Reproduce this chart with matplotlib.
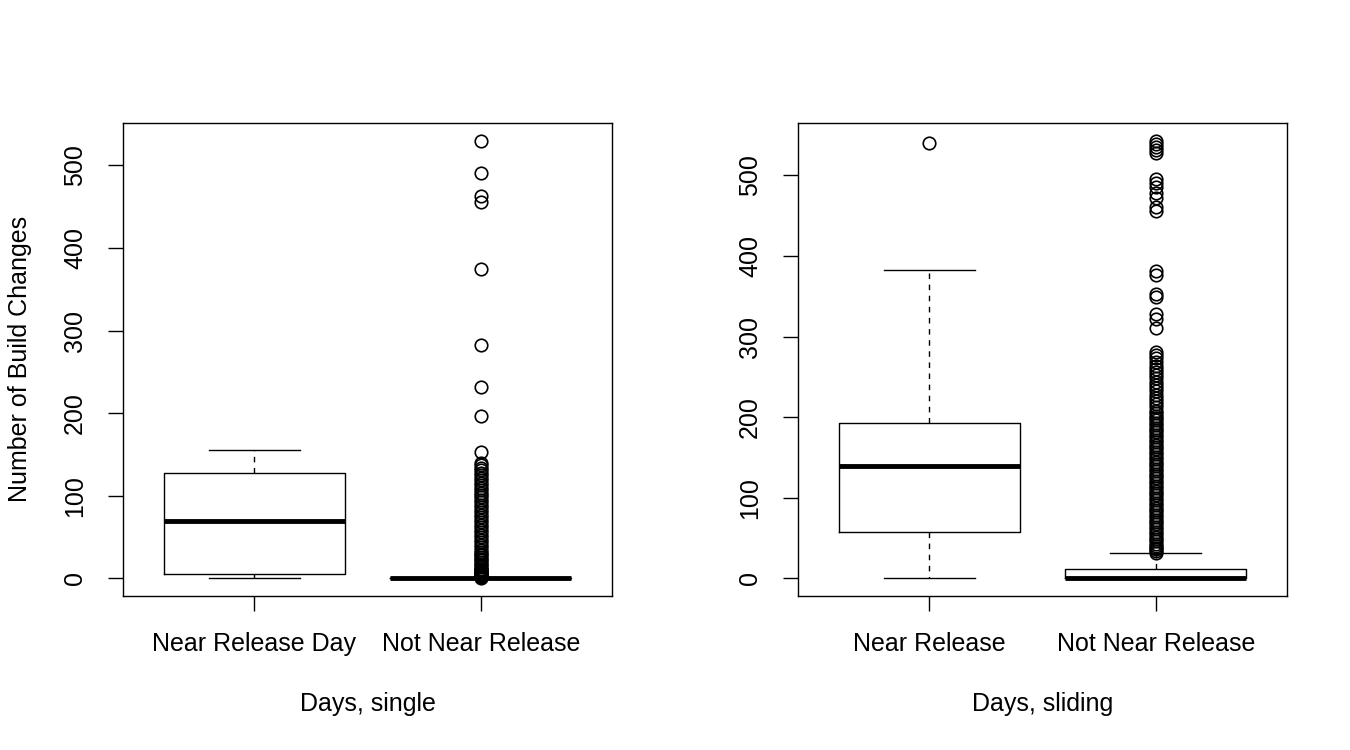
import matplotlib
matplotlib.use("Agg")
import matplotlib.pyplot as plt

plt.rcParams['font.family'] = ['Liberation Sans', 'DejaVu Sans']

# ---- data ----
single_labels = ["Near Release Day", "Not Near Release"]
single_stats = [
    # whislo, q1, med, q3, whishi
    [0, 6, 69, 128, 155],
    [0, 0, 0, 0, 0],
]
single_near_out = []
single_not_out = [530, 491, 463, 456, 374, 282, 232, 197, 153,
                  140, 137, 134, 131, 128, 125, 122, 119, 116, 113, 110,
                  107, 104, 101, 98, 95, 92, 89, 86, 83, 80, 77, 74, 71,
                  68, 65, 62, 59, 56, 53, 50, 47, 44, 41, 38, 35, 32, 30,
                  28, 26, 24, 22, 20, 18, 16, 14, 12, 11, 10, 9, 8, 7, 6,
                  5, 4, 3, 2, 1]

sliding_labels = ["Near Release", "Not Near Release"]
sliding_stats = [
    [0, 58, 139, 193, 382],
    [0, 0, 0, 12, 31],
]
sliding_near_out = [540]
sliding_not_out = [543, 539, 535, 531, 527,
                   495, 490, 485, 478, 472, 460, 455,
                   381, 376, 353, 349, 328, 322, 310,
                   281, 277, 273, 268, 264, 260, 256, 252, 248, 244, 240,
                   236, 232, 228, 224, 220, 216, 212, 208, 205, 202, 199,
                   196, 193, 190, 187, 184, 181, 178, 175, 172, 169, 166,
                   163, 160, 157, 154, 151, 148, 145, 142, 139, 136, 133,
                   130, 127, 124, 121, 118, 115, 112, 109, 106, 103, 100,
                   97, 94, 91, 88, 85, 82, 79, 76, 73, 70, 67, 64, 61, 58,
                   55, 52, 49, 46, 43, 40, 38, 36, 34, 32]


def make_stats(stats, fliers):
    out = []
    for s, f in zip(stats, fliers):
        out.append(dict(whislo=s[0], q1=s[1], med=s[2], q3=s[3], whishi=s[4], fliers=f))
    return out


fig = plt.figure(figsize=(13.5, 7.5), dpi=100)
ax1 = fig.add_axes([123 / 1350, 1 - 596 / 750, 489 / 1350, 473 / 750])
ax2 = fig.add_axes([798 / 1350, 1 - 596 / 750, 489 / 1350, 473 / 750])

panels = [
    (ax1, single_stats, [single_near_out, single_not_out], single_labels, "Days, single", (-21.2, 551.2)),
    (ax2, sliding_stats, [sliding_near_out, sliding_not_out], sliding_labels, "Days, sliding", (-21.7, 564.7)),
]

for ax, st, fl, labels, xlab, ylim in panels:
    ax.bxp(make_stats(st, fl), positions=[1, 2], widths=0.8, capwidths=0.4,
           patch_artist=False,
           boxprops=dict(color="black", linewidth=1.0),
           medianprops=dict(color="black", linewidth=3.5, solid_capstyle="butt"),
           whiskerprops=dict(color="black", linewidth=1.0, linestyle=(0, (4, 4))),
           capprops=dict(color="black", linewidth=1.0),
           flierprops=dict(marker="o", markersize=9, markerfacecolor="none",
                           markeredgecolor="black", markeredgewidth=1.2, linestyle="none"))
    ax.set_xlim(0.42, 2.58)
    ax.set_ylim(*ylim)
    ax.set_xticks([1, 2])
    ax.set_xticklabels(labels)
    ax.set_yticks([0, 100, 200, 300, 400, 500])
    ax.set_yticklabels(["0", "100", "200", "300", "400", "500"], rotation=90, va="center")
    ax.tick_params(direction="out", length=11, width=1.0, labelsize=18, pad=15)
    for sp in ax.spines.values():
        sp.set_linewidth(1.0)
    ax.set_xlabel(xlab, fontsize=18, labelpad=26)

fig.text(20 / 1350, 1 - 359 / 750, "Number of Build Changes", rotation=90,
         ha="center", va="center", fontsize=18)

fig.savefig("out.png", dpi=100)
